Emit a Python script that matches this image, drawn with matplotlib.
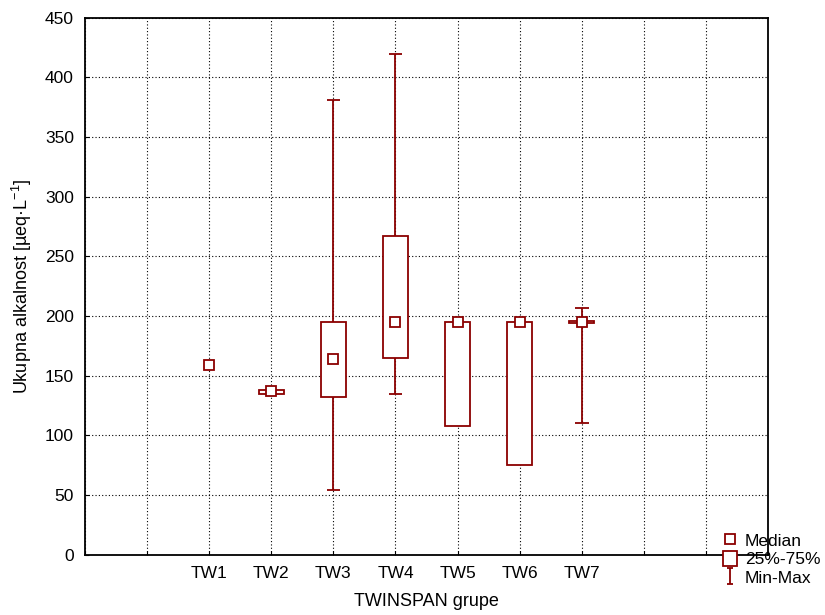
import matplotlib
matplotlib.use('agg')
import matplotlib.pyplot as plt
from matplotlib.lines import Line2D
from matplotlib.patches import Rectangle
from matplotlib.path import Path
import numpy as np

plt.rcParams['font.family'] = ['Liberation Sans', 'DejaVu Sans']
plt.rcParams['mathtext.fontset'] = 'custom'
plt.rcParams['mathtext.rm'] = 'Liberation Sans'

groups = ['TW1', 'TW2', 'TW3', 'TW4', 'TW5', 'TW6', 'TW7']
medians = [159, 137, 164, 195, 195, 195, 195]
q1 = [None, 135, 132, 165, 108, 75, 194.5]
q3 = [None, 138, 195, 267, 195, 195, 195.5]
mins = [None, 135, 54, 135, 108, 75, 110]
maxs = [None, 138, 381, 420, 195, 195, 207]

col = '#8b0000'
pos = np.arange(2, 2 + len(groups))

fig = plt.figure(figsize=(8.25, 6.15), dpi=100)
ax = fig.add_axes([0.103, 0.098, 0.828, 0.873])

for i, p in enumerate(pos):
    if q1[i] is None:
        continue
    # whiskers
    ax.vlines(p, mins[i], q1[i], color=col, lw=1.3, zorder=3)
    ax.vlines(p, q3[i], maxs[i], color=col, lw=1.3, zorder=3)
    if maxs[i] > q3[i]:
        ax.hlines(maxs[i], p - 0.11, p + 0.11, color=col, lw=1.3, zorder=3)
    if mins[i] < q1[i]:
        ax.hlines(mins[i], p - 0.11, p + 0.11, color=col, lw=1.3, zorder=3)
    # box
    ax.bar(p, q3[i] - q1[i], bottom=q1[i], width=0.4, facecolor='white',
           edgecolor=col, lw=1.3, zorder=4)

ax.plot(pos, medians, ls='none', marker='s', ms=6.5, mfc='white', mec=col,
        mew=1.3, zorder=5)

ax.set_xlim(0, 11)
ax.set_ylim(0, 450)
ax.set_xticks(np.arange(0, 12))
ax.set_xticklabels([''] * 2 + groups + [''] * 3)
ax.set_yticks(np.arange(0, 451, 50))
ax.tick_params(direction='in', length=3, labelsize=12.5, color='black', pad=8)
ax.grid(True, ls=(0, (1, 2)), color='black', lw=0.8)
ax.set_axisbelow(True)
for s in ax.spines.values():
    s.set_linewidth(1.3)

ax.set_xlabel('TWINSPAN grupe', fontsize=13, labelpad=9)
ax.set_ylabel(r'Ukupna alkalnost [µeq·L$^{\mathregular{-1}}$]', fontsize=13, labelpad=8)

# I-shaped marker for the min-max legend entry
ibar = Path([(-0.4, -1), (0.4, -1), (0, -1), (0, 1), (-0.4, 1), (0.4, 1)],
            [Path.MOVETO, Path.LINETO, Path.MOVETO, Path.LINETO, Path.MOVETO, Path.LINETO])
h_med = Line2D([], [], ls='none', marker='s', ms=6.5, mfc='white', mec=col, mew=1.3)
h_box = Rectangle((0, 0), 1, 1, facecolor='white', edgecolor=col, lw=1.3)
h_rng = Line2D([], [], ls='none', marker=ibar, ms=11, mfc='none', mec=col, mew=1.3)
fig.legend([h_med, h_box, h_rng], ['Median', '25%-75%', 'Min-Max'],
           loc='upper left', bbox_to_anchor=(0.862, 0.155), frameon=False,
           fontsize=12.5, handlelength=0.8, handleheight=1.0,
           handletextpad=0.45, labelspacing=0.12, borderpad=0.2)

plt.savefig('out.png', dpi=100)
plt.close()
